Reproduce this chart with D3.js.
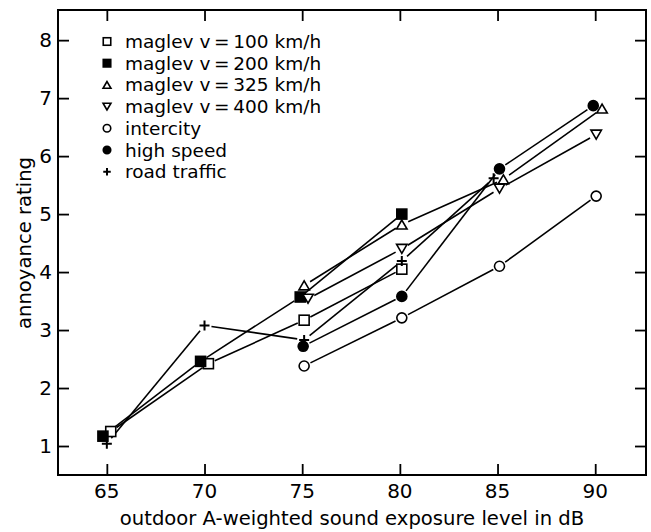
<!DOCTYPE html>
<html>
<head>
<meta charset="utf-8">
<script src="https://cdn.jsdelivr.net/npm/d3@7.9.0/dist/d3.min.js"></script>
<style>
  html, body { margin: 0; padding: 0; background: #fff; }
  svg { display: block; font-family: "DejaVu Sans", "Liberation Sans", sans-serif; }
</style>
</head>
<body>
<svg width="651" height="532"></svg>
<script>
// series: [x (dB), y (rating)]
const maglev100 = [[65.2, 1.25], [70.2, 2.42], [75.1, 3.17], [80.1, 4.05]];
const maglev200 = [[64.8, 1.17], [69.8, 2.46], [74.9, 3.57], [80.1, 5.0]];
const maglev325 = [[75.1, 3.77], [80.1, 4.82], [85.3, 5.6], [90.35, 6.82]];
const maglev400 = [[75.3, 3.54], [80.1, 4.4], [85.1, 5.44], [90.05, 6.37]];
const intercity = [[75.1, 2.38], [80.1, 3.21], [85.1, 4.1], [90.05, 5.31]];
const highSpeed = [[75.05, 2.72], [80.1, 3.58], [85.1, 5.78], [89.9, 6.87]];
const roadTraffic = [[65, 1.04], [70, 3.08], [75.1, 2.83], [80.1, 4.19], [84.8, 5.62]];

const labels = ['maglev v\u2009=\u2009100 km/h', 'maglev v\u2009=\u2009200 km/h', 'maglev v\u2009=\u2009325 km/h',
  'maglev v\u2009=\u2009400 km/h', 'intercity', 'high speed', 'road traffic'];
const symbols = ['squareOpen', 'squareFilled', 'triUp', 'triDown', 'circleOpen', 'circleFilled', 'plus'];
const allSeries = [maglev100, maglev200, maglev325, maglev400, intercity, highSpeed, roadTraffic];

const xTicks = [65, 70, 75, 80, 85, 90];
const yTicks = [1, 2, 3, 4, 5, 6, 7, 8];

const svg = d3.select('svg');
const mLeft = 58, mRight = 646, mTop = 10, mBottom = 475;

const x = d3.scaleLinear().domain([62.5, 92.6]).range([mLeft, mRight]);
const y = d3.scaleLinear().domain([0.5, 8.52]).range([mBottom, mTop]);

// frame
svg.append('rect')
  .attr('x', mLeft).attr('y', mTop)
  .attr('width', mRight - mLeft).attr('height', mBottom - mTop)
  .attr('fill', 'none').attr('stroke', '#000').attr('stroke-width', 2);

// inward ticks on all four sides
const tk = 11;
svg.append('g').attr('transform', `translate(0,${mBottom})`)
  .call(d3.axisTop(x).tickValues(xTicks).tickSize(tk).tickFormat(''))
  .call(g => g.select('.domain').remove());
svg.append('g').attr('transform', `translate(0,${mTop})`)
  .call(d3.axisBottom(x).tickValues(xTicks).tickSize(tk).tickFormat(''))
  .call(g => g.select('.domain').remove());
svg.append('g').attr('transform', `translate(${mLeft},0)`)
  .call(d3.axisRight(y).tickValues(yTicks).tickSize(tk).tickFormat(''))
  .call(g => g.select('.domain').remove());
svg.append('g').attr('transform', `translate(${mRight},0)`)
  .call(d3.axisLeft(y).tickValues(yTicks).tickSize(tk).tickFormat(''))
  .call(g => g.select('.domain').remove());
svg.selectAll('.tick line').attr('stroke', '#000').attr('stroke-width', 1.8);

// tick labels
svg.append('g').selectAll('text').data(xTicks).join('text')
  .attr('x', d => x(d)).attr('y', 498)
  .attr('text-anchor', 'middle').attr('font-size', 20)
  .text(d => d);
svg.append('g').selectAll('text').data(yTicks).join('text')
  .attr('x', 52).attr('y', d => y(d) + 7.3)
  .attr('text-anchor', 'end').attr('font-size', 20)
  .text(d => d);

// axis titles
svg.append('text')
  .attr('x', 352).attr('y', 525)
  .attr('text-anchor', 'middle').attr('font-size', 19.6)
  .text('outdoor A-weighted sound exposure level in dB');
svg.append('text')
  .attr('transform', 'translate(31,243) rotate(-90)')
  .attr('text-anchor', 'middle').attr('font-size', 19.6)
  .text('annoyance rating');

// lines with small gaps at the markers
const gap = 7;
const lines = svg.append('g');
allSeries.forEach(s => {
  for (let i = 0; i < s.length - 1; i++) {
    const x1 = x(s[i][0]), y1 = y(s[i][1]);
    const x2 = x(s[i + 1][0]), y2 = y(s[i + 1][1]);
    const len = Math.hypot(x2 - x1, y2 - y1);
    const ux = (x2 - x1) / len, uy = (y2 - y1) / len;
    lines.append('line')
      .attr('x1', x1 + ux * gap).attr('y1', y1 + uy * gap)
      .attr('x2', x2 - ux * gap).attr('y2', y2 - uy * gap)
      .attr('stroke', '#000').attr('stroke-width', 1.6);
  }
});

function drawMarker(g, kind, cx, cy, s) {
  const sw = 1.6;
  if (kind === 'squareOpen' || kind === 'squareFilled') {
    g.append('rect').attr('x', cx - s / 2).attr('y', cy - s / 2).attr('width', s).attr('height', s)
      .attr('fill', kind === 'squareFilled' ? '#000' : '#fff').attr('stroke', '#000').attr('stroke-width', sw);
  } else if (kind === 'triUp' || kind === 'triDown') {
    const h = s * 0.9, w = s * 1.05, d = kind === 'triUp' ? 1 : -1;
    const pts = [[cx, cy - d * h / 2], [cx - w / 2, cy + d * h / 2], [cx + w / 2, cy + d * h / 2]];
    g.append('polygon').attr('points', pts.map(p => p.join(',')).join(' '))
      .attr('fill', '#fff').attr('stroke', '#000').attr('stroke-width', sw);
  } else if (kind === 'circleOpen' || kind === 'circleFilled') {
    g.append('circle').attr('cx', cx).attr('cy', cy).attr('r', s / 2)
      .attr('fill', kind === 'circleFilled' ? '#000' : '#fff').attr('stroke', '#000').attr('stroke-width', sw);
  } else {
    g.append('path').attr('d', `M${cx - s / 2},${cy}H${cx + s / 2}M${cx},${cy - s / 2}V${cy + s / 2}`)
      .attr('stroke', '#000').attr('stroke-width', 2);
  }
}

const marks = svg.append('g');
allSeries.forEach((s, k) => {
  s.forEach(d => drawMarker(marks, symbols[k], x(d[0]), y(d[1]), 10));
});

// legend
const legend = svg.append('g');
labels.forEach((lab, k) => {
  const cy = 41.5 + k * 21.7;
  drawMarker(legend, symbols[k], 107, cy, 7.5);
  legend.append('text').attr('x', 125).attr('y', cy + 6.5)
    .attr('font-size', 18.5).text(lab);
});
</script>
</body>
</html>
